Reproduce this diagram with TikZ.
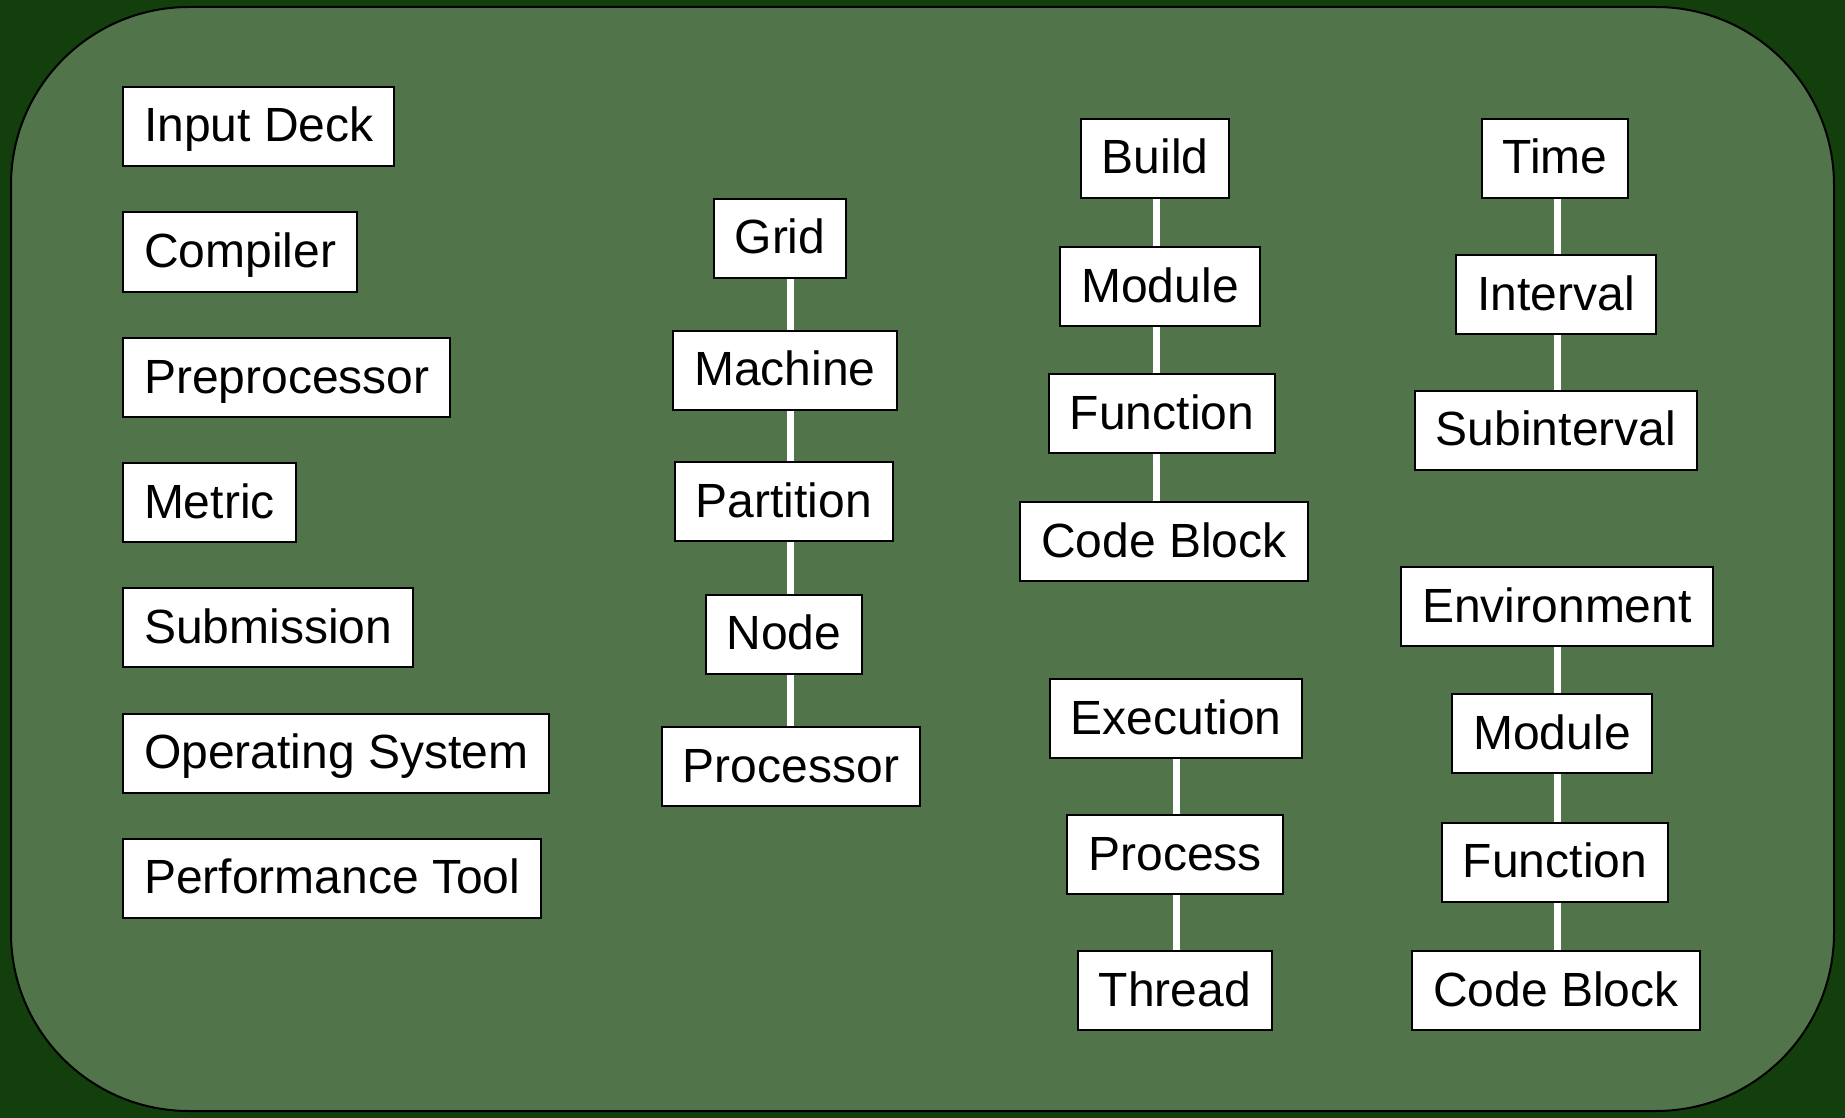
\documentclass[tikz,border=0pt]{standalone}
\usepackage{fontspec}
\setmainfont{Liberation Sans}
\definecolor{darkbg}{RGB}{18,63,11}
\definecolor{panel}{RGB}{82,116,74}

\begin{document}
\begin{tikzpicture}[x=1pt,y=1pt,yscale=-1,
  box/.style={draw=black,line width=2pt,fill=white,inner xsep=21pt,inner ysep=0pt,
    minimum height=79pt,text height=40pt,text depth=9pt,
    font=\fontsize{48}{57}\selectfont},
  link/.style={draw=white,line width=7pt}]
\fill[darkbg] (0,0) rectangle (1845,1118);
\draw[fill=panel,line width=2pt,rounded corners=178pt] (11,7) rectangle (1834,1111);

\node[box,anchor=west] (deck) at (122,126.5) {Input Deck};
\node[box,anchor=west] (comp) at (122,252) {Compiler};
\node[box,anchor=west] (prep) at (122,377.5) {Preprocessor};
\node[box,anchor=west] (metric) at (122,502.5) {Metric};
\node[box,anchor=west] (subm) at (122,627.5) {Submission};
\node[box,anchor=west] (opsys) at (122,753) {Operating System};
\node[box,anchor=west] (perf) at (122,878) {Performance Tool};

\node[box] (grid) at (780,238.5) {Grid};
\node[box] (machine) at (785,370) {Machine};
\node[box] (part) at (784,501.5) {Partition};
\node[box] (node) at (784,634) {Node};
\node[box] (proc) at (791,766.5) {Processor};

\node[box] (build) at (1155,158.5) {Build};
\node[box] (bmod) at (1160,286.5) {Module};
\node[box] (bfunc) at (1162,413.5) {Function};
\node[box] (bcode) at (1164,541.5) {Code Block};

\node[box] (exec) at (1176,718.5) {Execution};
\node[box] (process) at (1175,854.5) {Process};
\node[box] (thread) at (1175,990.5) {Thread};

\node[box] (time) at (1555,158.5) {Time};
\node[box] (interval) at (1556,294.5) {Interval};
\node[box] (subint) at (1556,430) {Subinterval};

\node[box] (env) at (1557,606.5) {Environment};
\node[box] (emod) at (1552,733.5) {Module};
\node[box] (efunc) at (1555,862) {Function};
\node[box] (ecode) at (1556,990.5) {Code Block};

\foreach \a/\b in {grid/machine,machine/part,part/node,node/proc}
  \draw[link] (\a.south -| 790,0) -- (\b.north -| 790,0);
\foreach \a/\b in {build/bmod,bmod/bfunc,bfunc/bcode}
  \draw[link] (\a.south -| 1156,0) -- (\b.north -| 1156,0);
\foreach \a/\b in {exec/process,process/thread}
  \draw[link] (\a.south -| 1176,0) -- (\b.north -| 1176,0);
\foreach \a/\b in {time/interval,interval/subint,env/emod,emod/efunc,efunc/ecode}
  \draw[link] (\a.south -| 1557,0) -- (\b.north -| 1557,0);
\end{tikzpicture}
\end{document}
